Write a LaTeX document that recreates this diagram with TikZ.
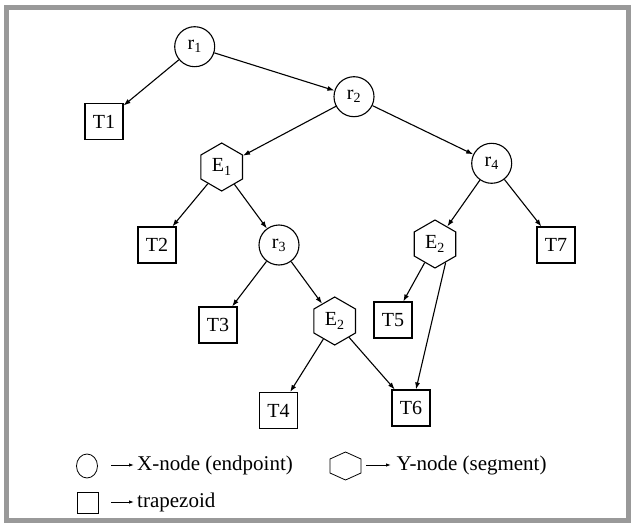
\documentclass[tikz,border=0pt]{standalone}
\usepackage{fontspec}
\setmainfont{Liberation Serif}
\usetikzlibrary{arrows.meta,shapes.geometric}
\definecolor{framegray}{HTML}{999999}
\begin{document}
\begin{tikzpicture}[x=1pt,y=-1pt,
  every node/.style={font=\fontsize{20}{24}\selectfont},
  xnode/.style={circle,draw,line width=1.1pt,minimum size=40pt,inner sep=0pt},
  tnode/.style={rectangle,draw,line width=1.1pt,minimum width=38pt,minimum height=36pt,inner sep=0pt},
  ynode/.style={regular polygon,regular polygon sides=6,shape border rotate=30,draw,line width=1.1pt,minimum size=48pt,inner sep=0pt},
  edgearrow/.style={line width=1.1pt,-{Latex[length=7pt,width=5pt]}},
  legarrow/.style={line width=0.9pt,-{Latex[length=5pt,width=3.5pt]}},
  legtext/.style={anchor=west,inner sep=0pt,font=\fontsize{21}{24}\selectfont},
  legshape/.style={draw,line width=0.8pt,inner sep=0pt}]
\useasboundingbox (0,0) rectangle (635,527);
\draw[framegray,line width=5pt] (6.5,7.5) rectangle (628.5,520.5);

\node[xnode] (r1) at (194.7,46.7) {r\textsubscript{1}};
\node[tnode] (T1) at (104,121.7) {T1};
\node[xnode] (r2) at (354,96.7) {r\textsubscript{2}};
\node[ynode] (E1) at (221.7,167) {E\textsubscript{1}};
\node[xnode] (r4) at (491.7,163.3) {r\textsubscript{4}};
\node[tnode] (T2) at (157,245) {T2};
\node[xnode] (r3) at (279,245) {r\textsubscript{3}};
\node[ynode] (E2r) at (435,244) {E\textsubscript{2}};
\node[tnode] (T7) at (556,245) {T7};
\node[tnode] (T3) at (218,325) {T3};
\node[ynode] (E2l) at (334.7,321) {E\textsubscript{2}};
\node[tnode] (T5) at (393,320) {T5};
\node[tnode] (T4) at (278.5,410.5) {T4};
\node[tnode] (T6) at (411,408) {T6};

\draw[edgearrow] (r1) -- (T1);
\draw[edgearrow] (r1) -- (r2);
\draw[edgearrow] (r2) -- (E1);
\draw[edgearrow] (r2) -- (r4);
\draw[edgearrow] (E1) -- (T2);
\draw[edgearrow] (E1) -- (r3);
\draw[edgearrow] (r4) -- (E2r);
\draw[edgearrow] (r4) -- (T7);
\draw[edgearrow] (r3) -- (T3);
\draw[edgearrow] (r3) -- (E2l);
\draw[edgearrow] (E2r) -- (T5);
\draw[edgearrow] (E2r.-60) -- (T6.75);
\draw[edgearrow] (E2l) -- (T4);
\draw[edgearrow] (E2l) -- (T6);

% legend
\node[legshape,ellipse,minimum width=21pt,minimum height=24pt] (lc) at (87,466) {};
\coordinate (lca) at (111,465);
\coordinate (lcb) at (134,465);
\draw[legarrow] (lca) -- (lcb);
\node[legtext] (lct) at (137,465) {X-node (endpoint)};

\coordinate (lh) at (345.5,466);
\draw[line width=0.8pt] (lh) ++(0,-14) -- ++(15.5,7) -- ++(0,14) -- ++(-15.5,7) -- ++(-15.5,-7) -- ++(0,-14) -- cycle;
\coordinate (lha) at (366,465);
\coordinate (lhb) at (391,465);
\draw[legarrow] (lha) -- (lhb);
\node[legtext] (lht) at (396.5,465) {Y-node (segment)};

\node[legshape,rectangle,minimum size=21pt] (ls) at (88,503) {};
\coordinate (lsa) at (111,502);
\coordinate (lsb) at (134,502);
\draw[legarrow] (lsa) -- (lsb);
\node[legtext] (lst) at (137,502) {trapezoid};
\end{tikzpicture}
\end{document}
